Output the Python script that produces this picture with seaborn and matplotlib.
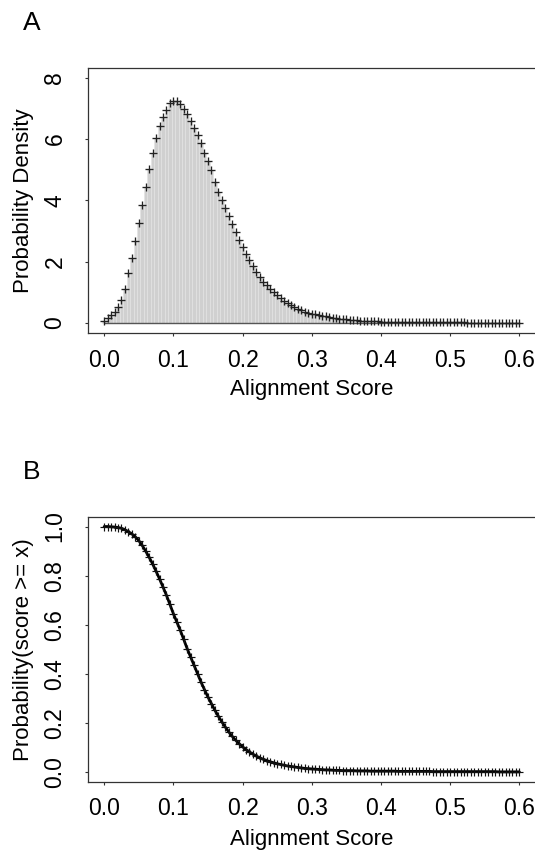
import numpy as np
import pandas as pd
import matplotlib
matplotlib.use("Agg")
import matplotlib.pyplot as plt
import seaborn as sns

# ---------------- data ----------------
score = [round(0.005 * i, 3) for i in range(121)]  # 0.000 .. 0.600 bin centres

density = [
    0.07, 0.15, 0.25, 0.36, 0.52, 0.76, 1.12, 1.64, 2.13, 2.67,
    3.27, 3.84, 4.44, 5.01, 5.55, 6.02, 6.42, 6.70, 6.95, 7.16,
    7.25, 7.25, 7.13, 6.98, 6.80, 6.58, 6.35, 6.13, 5.86, 5.55,
    5.27, 4.99, 4.60, 4.28, 4.01, 3.74, 3.49, 3.23, 2.97, 2.70,
    2.47, 2.26, 2.04, 1.85, 1.66, 1.50, 1.35, 1.23, 1.11, 1.02,
    0.90, 0.81, 0.73, 0.66, 0.58, 0.52, 0.47, 0.42, 0.37, 0.34,
    0.30, 0.28, 0.26, 0.24, 0.22, 0.20, 0.18, 0.16, 0.14, 0.13,
    0.12, 0.11, 0.10, 0.09, 0.08, 0.07, 0.06, 0.06, 0.05, 0.05,
    0.04, 0.04, 0.04, 0.03, 0.03, 0.03, 0.03, 0.03, 0.03, 0.03,
    0.02, 0.02, 0.02, 0.02, 0.02, 0.02, 0.02, 0.02, 0.02, 0.02,
    0.02, 0.02, 0.02, 0.02, 0.02, 0.01, 0.01, 0.01, 0.01, 0.01,
    0.01, 0.01, 0.01, 0.01, 0.01, 0.01, 0.01, 0.01, 0.01, 0.01,
    0.01,
]

survival = [
    1.000, 1.000, 0.999, 0.998, 0.996, 0.993, 0.987, 0.979, 0.970, 0.958,
    0.943, 0.923, 0.900, 0.875, 0.848, 0.818, 0.787, 0.754, 0.720, 0.683,
    0.645, 0.611, 0.577, 0.540, 0.502, 0.468, 0.434, 0.400, 0.366, 0.335,
    0.305, 0.278, 0.251, 0.227, 0.204, 0.183, 0.163, 0.145, 0.129, 0.115,
    0.102, 0.091, 0.081, 0.072, 0.064, 0.057, 0.051, 0.046, 0.041, 0.037,
    0.033, 0.030, 0.027, 0.024, 0.022, 0.020, 0.018, 0.016, 0.014, 0.013,
    0.012, 0.011, 0.010, 0.009, 0.008, 0.008, 0.007, 0.006, 0.006, 0.005,
    0.005, 0.005, 0.005, 0.004, 0.004, 0.004, 0.004, 0.003, 0.003, 0.003,
    0.003, 0.003, 0.003, 0.003, 0.003, 0.002, 0.002, 0.002, 0.002, 0.002,
    0.002, 0.002, 0.002, 0.002, 0.002, 0.001, 0.001, 0.001, 0.001, 0.001,
    0.001, 0.001, 0.001, 0.001, 0.001, 0.001, 0.001, 0.001, 0.001, 0.001,
    0.001, 0.001, 0.001, 0.001, 0.000, 0.000, 0.000, 0.000, 0.000, 0.000,
    0.000,
]

x_ticks = [0.0, 0.1, 0.2, 0.3, 0.4, 0.5, 0.6]
x_tick_labels = ["0.0", "0.1", "0.2", "0.3", "0.4", "0.5", "0.6"]
yA_ticks = [0, 2, 4, 6, 8]
yA_tick_labels = ["0", "2", "4", "6", "8"]
yB_ticks = [0.0, 0.2, 0.4, 0.6, 0.8, 1.0]
yB_tick_labels = ["0.0", "0.2", "0.4", "0.6", "0.8", "1.0"]

# ---------------- style ----------------
sns.set_theme(style="ticks")
plt.rcParams["font.family"] = ["Liberation Sans", "DejaVu Sans"]
plt.rcParams["text.color"] = "black"
plt.rcParams["axes.labelcolor"] = "black"

EDGE = "#333333"
df = pd.DataFrame({"score": score, "density": density, "survival": survival})
edges = [s - 0.0025 for s in score] + [score[-1] + 0.0025]

fig = plt.figure(figsize=(5.35, 8.5), dpi=100)
fig.patch.set_facecolor("white")
axA = fig.add_axes([0.1636, 0.6082, 0.8383, 0.3114])
axB = fig.add_axes([0.1636, 0.0804, 0.8383, 0.3117])


def style_axes(ax, yticks, ylabels):
    for sp in ax.spines.values():
        sp.set_visible(True)
        sp.set_color(EDGE)
        sp.set_linewidth(0.9)
    ax.set_xticks(x_ticks)
    ax.set_xticklabels(x_tick_labels)
    ax.set_yticks(yticks)
    ax.set_yticklabels(ylabels, rotation=90, va="center")
    ax.tick_params(axis="both", length=2.2, width=0.8, color=EDGE,
                   labelsize=16.5, labelcolor="black")
    ax.tick_params(axis="x", pad=9)
    ax.tick_params(axis="y", pad=13)
    ax.set_xlim(-0.024, 0.624)
    ax.set_facecolor("white")


# ---- Panel A ----
sns.histplot(data=df, x="score", weights="density", bins=edges, ax=axA,
             color="#d0d0d0", edgecolor="#e3e3e3", linewidth=0.5, alpha=1.0)
axA.hlines(0, score[0], score[-1], color="#555555", linewidth=1.0, zorder=2)
sns.scatterplot(data=df, x="score", y="density", ax=axA, marker="+", s=34,
                color="#222222", linewidth=0.95, zorder=3)
style_axes(axA, yA_ticks, yA_tick_labels)
axA.set_ylim(-0.326, 8.30)
axA.set_xlabel("Alignment Score", fontsize=16, labelpad=5)
axA.set_ylabel("Probability Density", fontsize=16, labelpad=7)
fig.text(0.06, 0.973, "A", fontsize=19, ha="center", va="center")

# ---- Panel B ----
sns.lineplot(data=df, x="score", y="survival", ax=axB, color="black",
             linewidth=2.0, zorder=2)
sns.scatterplot(data=df, x="score", y="survival", ax=axB, marker="+", s=26,
                color="#111111", linewidth=0.85, zorder=3)
style_axes(axB, yB_ticks, yB_tick_labels)
axB.set_ylim(-0.04, 1.04)
axB.set_xlabel("Alignment Score", fontsize=16, labelpad=6)
axB.set_ylabel("Probability(score >= x)", fontsize=16, labelpad=7)
fig.text(0.06, 0.445, "B", fontsize=19, ha="center", va="center")

fig.savefig("out.png", dpi=100, facecolor="white")
